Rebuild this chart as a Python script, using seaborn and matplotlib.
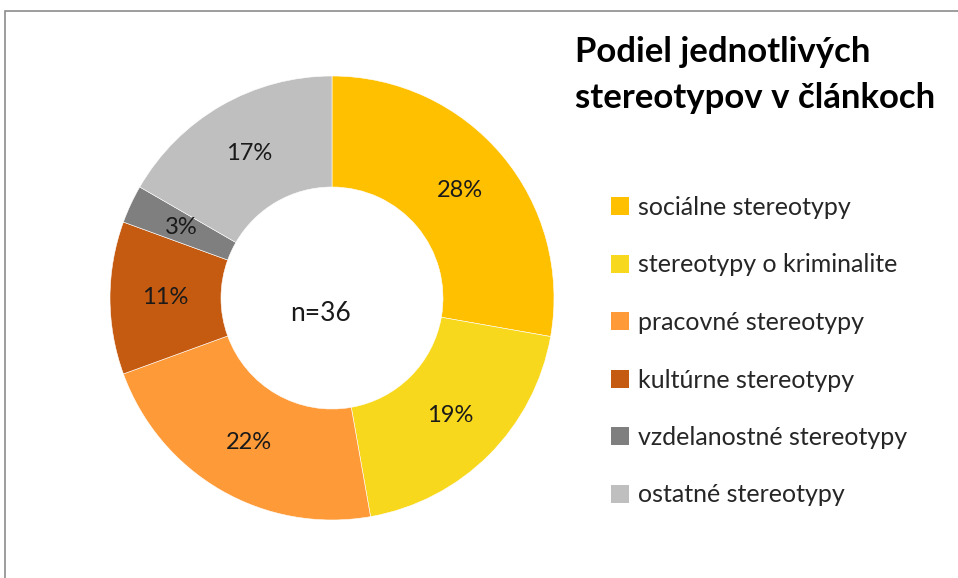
import matplotlib
matplotlib.use('Agg')
from matplotlib import pyplot as plt
from matplotlib.patches import Rectangle, Patch
import seaborn as sns

categories = ['sociálne stereotypy', 'stereotypy o kriminalite', 'pracovné stereotypy',
              'kultúrne stereotypy', 'vzdelanostné stereotypy', 'ostatné stereotypy']
counts = [10, 7, 8, 4, 1, 6]
colors = ['#FFC000', '#F8D81C', '#FE9A37', '#C55A11', '#7F7F7F', '#BFBFBF']
title = 'Podiel jednotlivých\nstereotypov v článkoch'
center_text = 'n=36'

sns.set_theme(style='white')
plt.rcParams['font.family'] = ['Lato', 'DejaVu Sans']

W, H = 958, 578
fig = plt.figure(figsize=(W / 100, H / 100), dpi=100)

# outer frame (cropped at right and bottom like the original)
fig.patches.append(Rectangle((4.5 / W, -0.1), 1.2, 1.1 - 11.5 / H,
                             transform=fig.transFigure, fill=False,
                             edgecolor='#8c8c8c', linewidth=1.2))

cx, cy, r = 332, 298, 222
ax = fig.add_axes([(cx - r) / W, (H - cy - r) / H, 2 * r / W, 2 * r / H])
wedges, texts, autotexts = ax.pie(
    counts, colors=colors, startangle=90, counterclock=False,
    autopct=lambda p: f'{p:.0f}%', pctdistance=0.75,
    wedgeprops=dict(width=0.5, edgecolor='white', linewidth=0.4),
    textprops=dict(fontsize=17, color='#1a1a1a'))
ax.set_xlim(-1, 1)
ax.set_ylim(-1, 1)
ax.set_aspect('equal')
ax.axis('off')
ax.text(-0.05, -0.07, center_text, ha='center', va='center', fontsize=19, color='#1a1a1a')

fig.text(575 / W, 1 - 75 / H, title, ha='left', va='center', fontsize=25,
         fontweight='bold', color='black', linespacing=1.55)

handles = [Patch(facecolor=c, edgecolor='none') for c in colors]
fig.legend(handles, categories, loc='upper left', bbox_to_anchor=(611 / W, 1 - 196 / H),
           frameon=False, fontsize=18, handlelength=0.72, handleheight=0.72,
           handletextpad=0.35, labelspacing=1.38, borderaxespad=0, borderpad=0)

fig.savefig('out.png', dpi=100)
